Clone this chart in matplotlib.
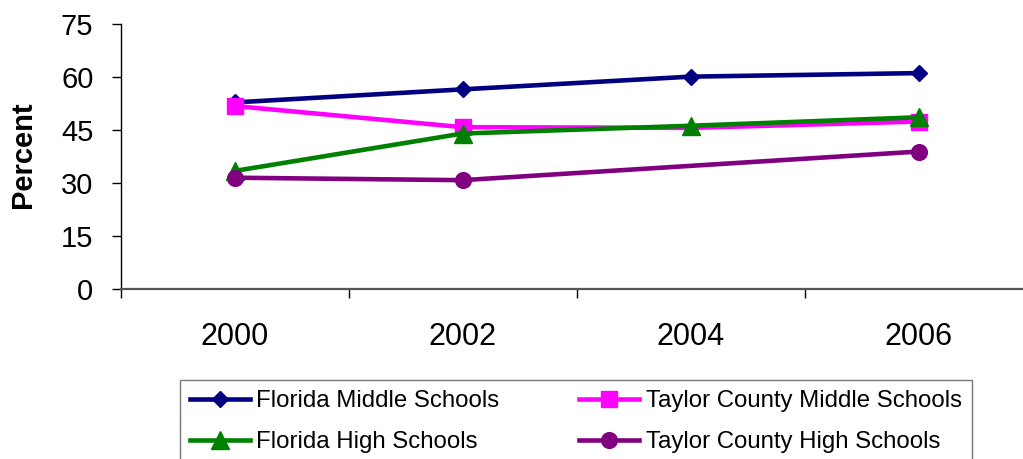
import numpy as np
import matplotlib
matplotlib.use("Agg")
import matplotlib.pyplot as plt
from matplotlib.lines import Line2D

plt.rcParams['font.family'] = ['Liberation Sans', 'DejaVu Sans']

years = ['2000', '2002', '2004', '2006']
fl_middle = [52.8, 56.5, 60.1, 61.1]
tc_middle = [51.8, 45.8, 45.6, 47.4]
fl_high = [33.4, 44.0, 46.2, 48.6]
tc_high = [31.5, 30.8, np.nan, 38.9]
series_names = ['Florida Middle Schools', 'Taylor County Middle Schools',
                'Florida High Schools', 'Taylor County High Schools']
yticks = [0, 15, 30, 45, 60, 75]

W, H = 1023, 459
fig = plt.figure(figsize=(W / 100, H / 100), dpi=100)
ax = fig.add_axes([120.5 / W, 1 - 289 / H, 912 / W, 265 / H])

x = np.arange(len(years))
LW = 3.3

def plot_series(vals, color, marker, ms, markevery=None):
    v = np.array(vals, dtype=float)
    m = ~np.isnan(v)
    ax.plot(x[m], v[m], color=color, lw=LW, marker=marker, ms=ms,
            markeredgecolor=color, markerfacecolor=color, clip_on=False,
            markevery=markevery)

plot_series(fl_middle, '#000080', 'D', 8.2)
plot_series(tc_middle, '#FF00FF', 's', 11.3, markevery=[0, 1, 3])
plot_series(fl_high, '#008000', '^', 13)
plot_series(tc_high, '#800080', 'o', 11.3)

ax.set_xlim(-0.5, len(years) - 0.5)
ax.set_ylim(0, 75)
ax.set_yticks(yticks)
ax.set_yticklabels([str(t) for t in yticks], fontsize=21)
ax.tick_params(axis='y', direction='out', length=6.5, width=1, pad=13, color='black')

ax.set_xticks(np.arange(len(years) + 1) - 0.5)
ax.set_xticklabels([])
ax.tick_params(axis='x', which='major', direction='out', length=6.5, width=1, color='black')
ax.set_xticks(x, minor=True)
ax.set_xticklabels(years, minor=True, fontsize=22)
ax.tick_params(axis='x', which='minor', length=0, pad=24)

for s in ['top', 'right']:
    ax.spines[s].set_visible(False)
ax.spines['left'].set_color('black')
ax.spines['left'].set_linewidth(1.0)
ax.spines['bottom'].set_color('#555555')
ax.spines['bottom'].set_linewidth(1.6)

fig.text(23 / W, 1 - 155 / H, 'Percent', rotation=90, fontsize=21,
         fontweight='bold', ha='center', va='center')

style = {
    'Florida Middle Schools': ('#000080', 'D', 8.2),
    'Taylor County Middle Schools': ('#FF00FF', 's', 11.3),
    'Florida High Schools': ('#008000', '^', 13),
    'Taylor County High Schools': ('#800080', 'o', 11.3),
}
# row-major legend order (matplotlib fills columns first)
order = [series_names[0], series_names[2], series_names[1], series_names[3]]
handles = [Line2D([], [], color=style[n][0], lw=LW, marker=style[n][1], ms=style[n][2])
           for n in order]
leg = fig.legend(handles, order, ncol=2, loc='upper left',
                 bbox_to_anchor=(179.5 / W, 1 - 380 / H),
                 fontsize=17.3, frameon=True, fancybox=False,
                 edgecolor='#555555', borderpad=0.42, handlelength=2.5,
                 handletextpad=0.28, columnspacing=3.3, labelspacing=0.8,
                 borderaxespad=0)
leg.get_frame().set_linewidth(1.0)

fig.savefig('out.png', dpi=100)
